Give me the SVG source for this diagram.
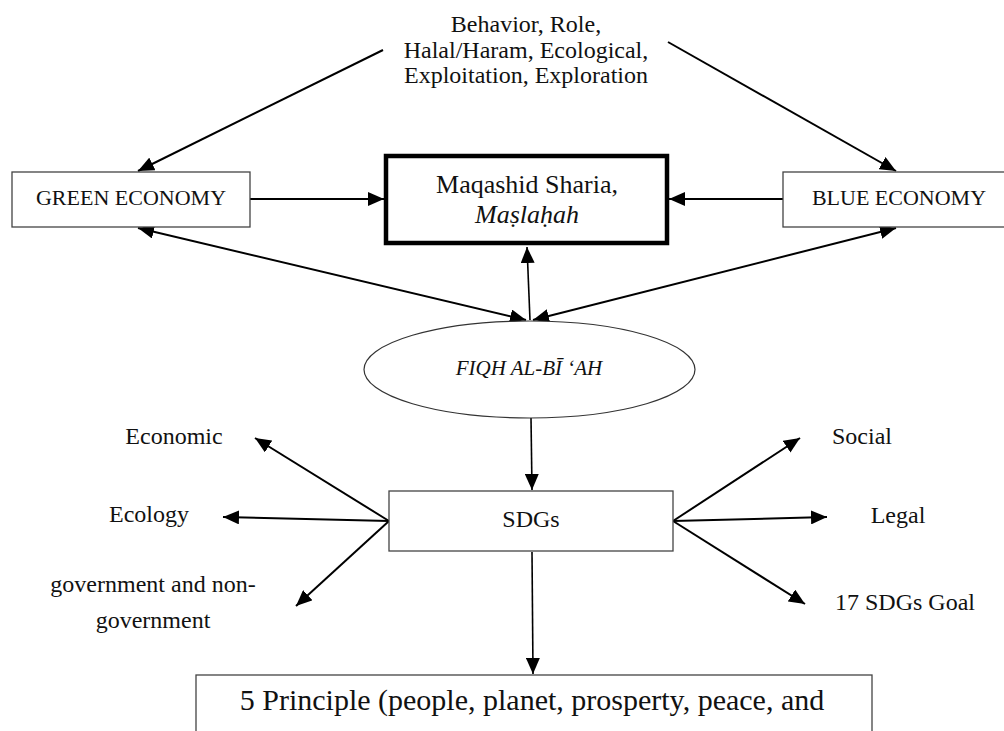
<svg xmlns="http://www.w3.org/2000/svg" width="1004" height="731" viewBox="0 0 1004 731">
<style>
text{font-family:"Liberation Serif","Times New Roman",serif;fill:#111;text-anchor:middle}
.box{fill:#fff;stroke:#444;stroke-width:1.3}
.thick{fill:#fff;stroke:#000;stroke-width:4.5}
.ell{fill:#fff;stroke:#333;stroke-width:1.2}
.c{stroke:#000;stroke-width:2;fill:none}
.lbl{font-size:24px}
.it{font-style:italic}
</style>
<defs>
<marker id="ah" viewBox="0 0 16 14" markerWidth="16" markerHeight="14" refX="16" refY="7" orient="auto-start-reverse" markerUnits="userSpaceOnUse">
<path d="M0,0 L16,7 L0,14 z" fill="#000"/>
</marker>
</defs>
<g id="connectors">
<line class="c" x1="383" y1="50" x2="138" y2="171" marker-end="url(#ah)"/>
<line class="c" x1="668" y1="42" x2="896" y2="171" marker-end="url(#ah)"/>
<line class="c" x1="250" y1="199" x2="384" y2="199" marker-end="url(#ah)"/>
<line class="c" x1="783" y1="199" x2="669" y2="199" marker-end="url(#ah)"/>
<line class="c" x1="138" y1="228" x2="526" y2="320" marker-start="url(#ah)" marker-end="url(#ah)"/>
<line class="c" x1="896" y1="228" x2="533" y2="320" marker-start="url(#ah)" marker-end="url(#ah)"/>
<line class="c" style="stroke-width:1.6" x1="530" y1="320" x2="527" y2="247" marker-end="url(#ah)"/>
<line class="c" style="stroke-width:1.6" x1="531" y1="418" x2="532" y2="490" marker-end="url(#ah)"/>
<line class="c" x1="389" y1="521" x2="255" y2="438" marker-end="url(#ah)"/>
<line class="c" x1="389" y1="521" x2="223" y2="517" marker-end="url(#ah)"/>
<line class="c" x1="389" y1="521" x2="296" y2="606" marker-end="url(#ah)"/>
<line class="c" x1="673" y1="521" x2="800" y2="438" marker-end="url(#ah)"/>
<line class="c" x1="673" y1="521" x2="827" y2="517" marker-end="url(#ah)"/>
<line class="c" x1="673" y1="521" x2="805" y2="604" marker-end="url(#ah)"/>
<line class="c" style="stroke-width:1.6" x1="532" y1="552" x2="533" y2="674" marker-end="url(#ah)"/>
</g>
<g id="top-label">
<text class="lbl" x="526" y="32">Behavior, Role,</text>
<text class="lbl" x="526" y="58">Halal/Haram, Ecological,</text>
<text class="lbl" x="526" y="83">Exploitation, Exploration</text>
</g>
<g id="green-economy">
<rect class="box" x="12" y="172" width="238" height="55"/>
<text x="131" y="205" style="font-size:22px">GREEN ECONOMY</text>
</g>
<g id="maqashid">
<rect class="thick" x="386" y="156" width="281" height="87"/>
<text x="527" y="193" style="font-size:26px">Maqashid Sharia,</text>
<text class="it" x="527" y="223" style="font-size:26px">Maṣlaḥah</text>
</g>
<g id="blue-economy">
<rect class="box" x="783" y="172" width="230" height="55"/>
<text x="899" y="205" style="font-size:22px">BLUE ECONOMY</text>
</g>
<g id="fiqh">
<ellipse class="ell" cx="529.5" cy="369.5" rx="165.5" ry="48.5"/>
<text class="it" x="529" y="375" style="font-size:21px">FIQH AL-BĪ ‘AH</text>
</g>
<g id="sdgs">
<rect class="box" x="389" y="491" width="284" height="60"/>
<text x="531" y="527" style="font-size:24px">SDGs</text>
</g>
<g id="economic"><text class="lbl" x="174" y="444">Economic</text></g>
<g id="ecology"><text class="lbl" x="149" y="522">Ecology</text></g>
<g id="government">
<text class="lbl" x="153" y="592">government and non-</text>
<text class="lbl" x="153" y="628">government</text>
</g>
<g id="social"><text class="lbl" x="862" y="444">Social</text></g>
<g id="legal"><text class="lbl" x="898" y="523">Legal</text></g>
<g id="goal"><text class="lbl" x="905" y="610">17 SDGs Goal</text></g>
<g id="principle">
<rect class="box" x="196" y="675" width="676" height="80"/>
<text x="532" y="710" style="font-size:30px">5 Principle (people, planet, prosperty, peace, and</text>
</g>
</svg>
